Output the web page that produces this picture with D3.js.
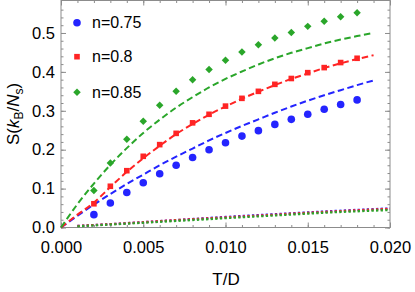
<!DOCTYPE html>
<html><head><meta charset="utf-8">
<script src="https://cdn.jsdelivr.net/npm/d3@7"></script>
<style>body{margin:0;background:#fff}text{font-family:"Liberation Sans",Arial,sans-serif}</style>
</head><body><svg id="c" width="415" height="292"></svg>
<script>
// ---- data ----
const seriesNames = ["n=0.75", "n=0.8", "n=0.85"];
const pointT = [0.002,0.003,0.004,0.005,0.006,0.007,0.008,0.009,0.010,0.011,0.012,0.013,0.014,0.015,0.016,0.017,0.018];
const blueDots  = [0.033,0.063,0.090,0.115,0.138,0.160,0.180,0.200,0.218,0.235,0.249,0.265,0.278,0.291,0.304,0.316,0.328];
const redDots   = [0.061,0.106,0.146,0.183,0.213,0.242,0.269,0.291,0.312,0.332,0.350,0.368,0.383,0.398,0.411,0.424,0.435];
const greenDots = [0.095,0.166,0.227,0.273,0.314,0.350,0.380,0.406,0.430,0.451,0.470,0.487,0.501,0.517,0.530,0.542,0.552];

const curveT = [0,0.001,0.002,0.003,0.004,0.005,0.006,0.007,0.008,0.009,0.010,0.011,0.012,0.013,0.014,0.015,0.016,0.017,0.018,0.019];
const blueDash  = [0,0.030,0.059,0.086,0.112,0.136,0.160,0.182,0.203,0.224,0.243,0.261,0.278,0.295,0.311,0.326,0.340,0.353,0.366,0.378];
const redDash   = [0,0.033,0.064,0.104,0.143,0.178,0.210,0.240,0.266,0.290,0.311,0.331,0.349,0.366,0.382,0.396,0.410,0.422,0.433,0.443];
const greenDash = [0,0.060,0.113,0.161,0.204,0.243,0.277,0.308,0.335,0.360,0.382,0.401,0.419,0.435,0.449,0.461,0.473,0.483,0.492,0.500];

const lowT = [0.001,0.004,0.007,0.010,0.013,0.016,0.020];
const blueLow  = [0.004,0.011,0.019,0.027,0.034,0.041,0.049];
const redLow   = [0.004,0.011,0.019,0.026,0.033,0.040,0.048];
const greenLow = [0.003,0.010,0.017,0.024,0.031,0.038,0.045];

const xTicks = [0,0.005,0.010,0.015,0.020];
const xTickLabels = ["0.000","0.005","0.010","0.015","0.020"];
const yTicks = [0,0.1,0.2,0.3,0.4,0.5];
const yTickLabels = ["0.0","0.1","0.2","0.3","0.4","0.5"];
const colors = ["#2424ff","#ff2424","#2aa62a"];

// ---- layout ----
const L = 61, R = 390, T0 = 0.5, B = 227.5;
const svg = d3.select("#c");
const x = d3.scaleLinear().domain([0,0.02]).range([L,R]);
const y = d3.scaleLinear().domain([0,0.5835]).range([B,T0]);

const frameCol = "#8c8c8c";
const xMinor = d3.range(0,0.02001,0.001);
const yMinor = d3.range(0,0.58,0.02);

function axisStyle(g){ g.select(".domain").attr("stroke",frameCol); g.selectAll(".tick line").attr("stroke",frameCol); }

// bottom
svg.append("g").attr("transform",`translate(0,${B})`)
  .call(d3.axisBottom(x).tickValues(xMinor).tickSize(-2.5).tickFormat("").tickSizeOuter(0)).call(axisStyle);
svg.append("g").attr("transform",`translate(0,${B})`)
  .call(d3.axisBottom(x).tickValues(xTicks).tickSize(-5).tickSizeOuter(0).tickPadding(14)
    .tickFormat((d,i)=>xTickLabels[i])).call(axisStyle)
  .call(g=>g.selectAll("text").attr("font-size",16.5).attr("fill","#000"));
// top
svg.append("g").attr("transform",`translate(0,${T0})`)
  .call(d3.axisTop(x).tickValues(xMinor).tickSize(-2.5).tickFormat("").tickSizeOuter(0)).call(axisStyle);
svg.append("g").attr("transform",`translate(0,${T0})`)
  .call(d3.axisTop(x).tickValues(xTicks).tickSize(-5).tickFormat("").tickSizeOuter(0)).call(axisStyle);
// left
svg.append("g").attr("transform",`translate(${L},0)`)
  .call(d3.axisLeft(y).tickValues(yMinor).tickSize(-2.5).tickFormat("").tickSizeOuter(0)).call(axisStyle);
svg.append("g").attr("transform",`translate(${L},0)`)
  .call(d3.axisLeft(y).tickValues(yTicks).tickSize(-5).tickSizeOuter(0).tickPadding(6)
    .tickFormat((d,i)=>yTickLabels[i])).call(axisStyle)
  .call(g=>g.selectAll("text").attr("font-size",16.5).attr("fill","#000"));
// right
svg.append("g").attr("transform",`translate(${R},0)`)
  .call(d3.axisRight(y).tickValues(yMinor).tickSize(-2.5).tickFormat("").tickSizeOuter(0)).call(axisStyle);
svg.append("g").attr("transform",`translate(${R},0)`)
  .call(d3.axisRight(y).tickValues(yTicks).tickSize(-5).tickFormat("").tickSizeOuter(0)).call(axisStyle);
svg.selectAll(".domain").remove();
svg.append("rect").attr("x",L).attr("y",T0).attr("width",R-L).attr("height",B-T0)
  .attr("fill","none").attr("stroke",frameCol).attr("stroke-width",1);

const plot = svg.append("g");
const line = d3.line().x(d=>x(d[0])).y(d=>y(d[1])).curve(d3.curveMonotoneX);

// dotted low lines
[blueLow, redLow, greenLow].forEach((vals,i)=>{
  plot.append("path").datum(lowT.map((t,j)=>[t,vals[j]])).attr("d",line)
    .attr("fill","none").attr("stroke",colors[i]).attr("stroke-width",2.3).attr("stroke-dasharray","2.3,2.3");
});
// dashed curves
[blueDash, redDash, greenDash].forEach((vals,i)=>{
  plot.append("path").datum(curveT.map((t,j)=>[t,vals[j]])).attr("d",line)
    .attr("fill","none").attr("stroke",colors[i]).attr("stroke-width",2).attr("stroke-dasharray","6.5,3.5");
});
// markers
plot.selectAll(".bd").data(pointT.map((t,j)=>[t,blueDots[j]])).join("circle")
  .attr("cx",d=>x(d[0])).attr("cy",d=>y(d[1])).attr("r",3.8).attr("fill",colors[0]);
plot.selectAll(".rd").data(pointT.map((t,j)=>[t,redDots[j]])).join("rect")
  .attr("x",d=>x(d[0])-2.8).attr("y",d=>y(d[1])-2.8).attr("width",5.6).attr("height",5.6).attr("fill",colors[1]);
plot.selectAll(".gd").data(pointT.map((t,j)=>[t,greenDots[j]])).join("path")
  .attr("transform",d=>`translate(${x(d[0])},${y(d[1])}) rotate(45)`).attr("d",d3.symbol().type(d3.symbolSquare).size(28)).attr("fill",colors[2]);

// legend
const leg = svg.append("g");
const legY = [22.7,56.7,92.3];
leg.append("circle").attr("cx",77).attr("cy",legY[0]).attr("r",3.8).attr("fill",colors[0]);
leg.append("rect").attr("x",77-2.8).attr("y",legY[1]-2.8).attr("width",5.6).attr("height",5.6).attr("fill",colors[1]);
leg.append("path").attr("transform",`translate(77,${legY[2]}) rotate(45)`).attr("d",d3.symbol().type(d3.symbolSquare).size(28)).attr("fill",colors[2]);
seriesNames.forEach((s,i)=>{
  leg.append("text").attr("x",92).attr("y",legY[i]).attr("dy","0.35em").attr("font-size",16).text(s);
});

// axis labels
svg.append("text").attr("x",226).attr("y",285).attr("text-anchor","middle").attr("font-size",17).text("T/D");
const yl = svg.append("text").attr("transform","translate(19,114) rotate(-90)").attr("text-anchor","middle").attr("font-size",17);
yl.append("tspan").text("S(");
yl.append("tspan").attr("font-style","italic").text("k");
yl.append("tspan").attr("font-size",12).attr("dy",4).text("B");
yl.append("tspan").attr("dy",-4).text("/");
yl.append("tspan").attr("font-style","italic").text("N");
yl.append("tspan").attr("font-size",12).attr("dy",4).text("s");
yl.append("tspan").attr("dy",-4).text(")");
</script></body></html>
